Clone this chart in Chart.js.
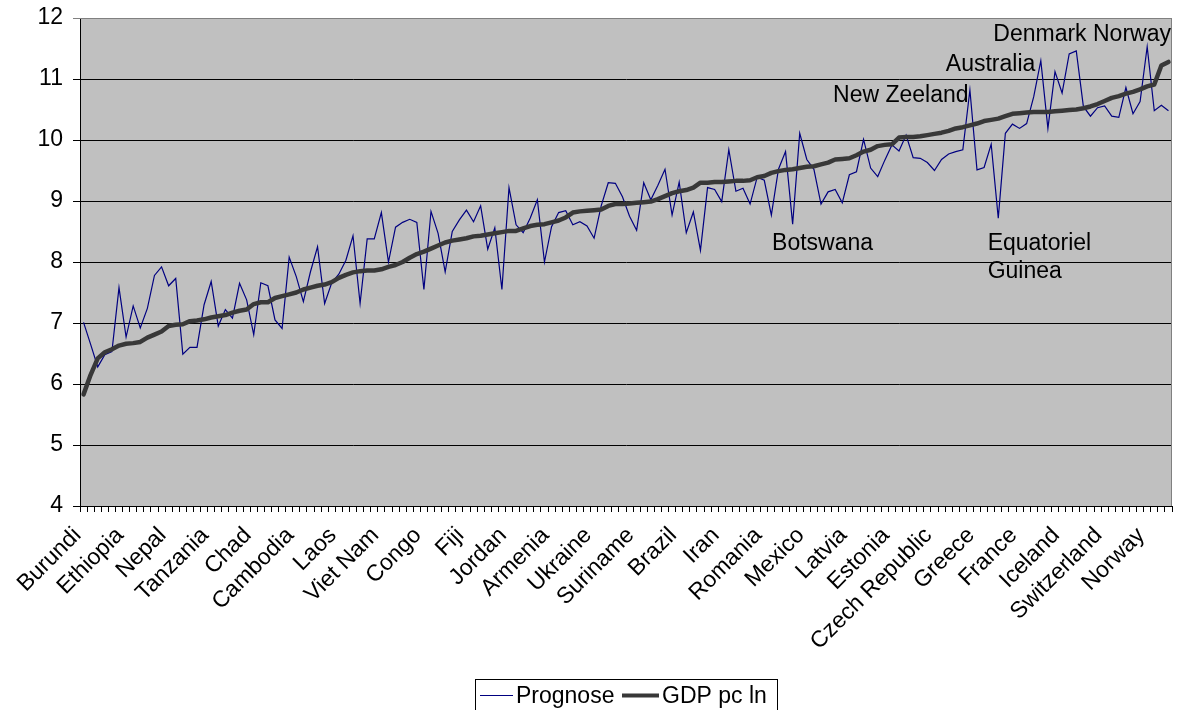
<!DOCTYPE html>
<html>
<head>
<meta charset="utf-8">
<script src="https://cdn.jsdelivr.net/npm/chart.js@4.4.1/dist/chart.umd.min.js"></script>
<style>
  html, body { margin: 0; padding: 0; background: #ffffff; }
  canvas { display: block; }
</style>
</head>
<body>
<canvas id="chart" width="1177" height="710"></canvas>
<script>
const FONT = "'Liberation Sans', Arial, sans-serif";

// Countries named on the category axis (every sixth country)
const tickLabels = [
  'Burundi', 'Ethiopia', 'Nepal', 'Tanzania', 'Chad', 'Cambodia', 'Laos',
  'Viet Nam', 'Congo', 'Fiji', 'Jordan', 'Armenia', 'Ukraine', 'Suriname',
  'Brazil', 'Iran', 'Romania', 'Mexico', 'Latvia', 'Estonia',
  'Czech Republic', 'Greece', 'France', 'Iceland', 'Switzerland', 'Norway'
];
const labelStep = 6;

// Predicted value per country
const prognose = [
  7.01, 6.65, 6.28, 6.48, 6.53, 7.58, 6.77, 7.28, 6.92, 7.24,
  7.78, 7.92, 7.61, 7.73, 6.49, 6.60, 6.60, 7.30, 7.68, 6.95,
  7.22, 7.08, 7.65, 7.38, 6.81, 7.66, 7.61, 7.05, 6.91, 8.08,
  7.76, 7.35, 7.84, 8.25, 7.32, 7.66, 7.80, 8.03, 8.43, 7.32,
  8.38, 8.38, 8.81, 8.00, 8.57, 8.65, 8.70, 8.65, 7.55, 8.83,
  8.47, 7.84, 8.50, 8.69, 8.85, 8.66, 8.92, 8.21, 8.56, 7.55,
  9.22, 8.61, 8.48, 8.72, 9.02, 8.00, 8.58, 8.81, 8.84, 8.61,
  8.66, 8.59, 8.39, 8.92, 9.30, 9.29, 9.07, 8.75, 8.52, 9.30,
  9.02, 9.26, 9.52, 8.77, 9.31, 8.48, 8.82, 8.19, 9.22, 9.19,
  8.99, 9.84, 9.16, 9.21, 8.95, 9.39, 9.34, 8.77, 9.52, 9.81,
  8.62, 10.11, 9.68, 9.52, 8.95, 9.15, 9.19, 8.97, 9.43, 9.48,
  10.01, 9.54, 9.40, 9.67, 9.92, 9.82, 10.08, 9.71, 9.70, 9.63,
  9.50, 9.68, 9.77, 9.81, 9.84, 10.82, 9.51, 9.55, 9.93, 8.72,
  10.11, 10.26, 10.19, 10.27, 10.71, 11.30, 10.19, 11.12, 10.77, 11.41,
  11.46, 10.55, 10.39, 10.53, 10.56, 10.39, 10.37, 10.86, 10.43, 10.63,
  11.53, 10.48, 10.57, 10.48
];

// Log of GDP per capita, countries sorted ascending
const gdpPcLn = [
  5.83, 6.15, 6.42, 6.52, 6.57, 6.63, 6.66, 6.67, 6.69, 6.76,
  6.81, 6.86, 6.95, 6.97, 6.98, 7.03, 7.04, 7.06, 7.09, 7.11,
  7.13, 7.17, 7.20, 7.22, 7.31, 7.34, 7.34, 7.41, 7.44, 7.47,
  7.50, 7.55, 7.58, 7.61, 7.63, 7.67, 7.74, 7.79, 7.83, 7.85,
  7.86, 7.86, 7.88, 7.92, 7.95, 8.00, 8.07, 8.13, 8.17, 8.22,
  8.27, 8.32, 8.35, 8.37, 8.39, 8.42, 8.43, 8.45, 8.47, 8.49,
  8.51, 8.51, 8.55, 8.59, 8.61, 8.62, 8.65, 8.68, 8.73, 8.81,
  8.83, 8.84, 8.85, 8.86, 8.92, 8.95, 8.95, 8.96, 8.97, 8.98,
  8.99, 9.03, 9.08, 9.13, 9.16, 9.18, 9.22, 9.30, 9.30, 9.31,
  9.31, 9.32, 9.33, 9.33, 9.34, 9.39, 9.41, 9.46, 9.49, 9.51,
  9.52, 9.54, 9.56, 9.57, 9.60, 9.63, 9.68, 9.69, 9.70, 9.75,
  9.81, 9.84, 9.90, 9.92, 9.93, 10.04, 10.05, 10.05, 10.06, 10.08,
  10.10, 10.12, 10.15, 10.19, 10.21, 10.24, 10.27, 10.31, 10.33, 10.35,
  10.39, 10.43, 10.44, 10.45, 10.46, 10.46, 10.46, 10.47, 10.48, 10.49,
  10.50, 10.52, 10.55, 10.59, 10.64, 10.69, 10.72, 10.76, 10.79, 10.83,
  10.88, 10.91, 11.22, 11.28
];

// Category list: one slot per country, named where the axis shows a label
const categories = gdpPcLn.map((_, i) =>
  i % labelStep === 0 ? (tickLabels[i / labelStep] || '') : '');

// Country call-outs: x in category units, y in axis units (text baseline)
const notes = [
  { lines: ['New Zeeland'], x: 105.7, y: 10.62 },
  { lines: ['Australia'], x: 121.6, y: 11.13 },
  { lines: ['Denmark Norway'], x: 128.3, y: 11.62 },
  { lines: ['Botswana'], x: 97.1, y: 8.20 },
  { lines: ['Equatoriel', 'Guinea'], x: 127.5, y: 8.20 }
];

const PLOT_BG = '#c0c0c0';
const PROG_COLOR = '#000080';
const GDP_COLOR = '#383838';

const framePlugin = {
  id: 'plotFrame',
  beforeDraw(chart) {
    const { ctx, chartArea: a } = chart;
    ctx.save();
    ctx.fillStyle = PLOT_BG;
    ctx.fillRect(a.left, a.top, a.right - a.left, a.bottom - a.top);
    ctx.restore();
  },
  beforeDatasetsDraw(chart) {
    const { ctx, chartArea: a } = chart;
    ctx.save();
    ctx.strokeStyle = '#808080';
    ctx.lineWidth = 1;
    ctx.beginPath();
    ctx.moveTo(a.left, Math.round(a.top) + 0.5);
    ctx.lineTo(Math.round(a.right) - 0.5, Math.round(a.top) + 0.5);
    ctx.lineTo(Math.round(a.right) - 0.5, a.bottom);
    ctx.stroke();
    ctx.restore();
  },
  afterDraw(chart) {
    const { ctx } = chart;
    const xs = chart.scales.x, ys = chart.scales.y;
    ctx.save();
    ctx.font = '23px ' + FONT;
    ctx.fillStyle = '#000';
    ctx.textAlign = 'left';
    ctx.textBaseline = 'alphabetic';
    const lineGap = 27.7;
    notes.forEach(n => {
      const px = xs.getPixelForValue(n.x);
      const py = ys.getPixelForValue(n.y);
      n.lines.forEach((t, k) => ctx.fillText(t, px, py + k * lineGap));
    });

    // Legend box at the bottom
    const bx = 475.5, by = 679.5, bw = 302, bh = 40;
    ctx.strokeStyle = '#000';
    ctx.lineWidth = 1;
    ctx.strokeRect(bx, by, bw, bh);
    const ly = 695.5;
    ctx.strokeStyle = PROG_COLOR;
    ctx.lineWidth = 1;
    ctx.beginPath(); ctx.moveTo(480, ly); ctx.lineTo(513, ly); ctx.stroke();
    ctx.fillText(chart.data.datasets[0].label, 516, 703);
    ctx.strokeStyle = GDP_COLOR;
    ctx.lineWidth = 4;
    ctx.beginPath(); ctx.moveTo(622, ly); ctx.lineTo(659, ly); ctx.stroke();
    ctx.fillText(chart.data.datasets[1].label, 662, 703);
    ctx.restore();
  }
};

new Chart(document.getElementById('chart'), {
  type: 'line',
  data: {
    labels: categories,
    datasets: [
      {
        label: 'Prognose',
        data: prognose,
        borderColor: PROG_COLOR,
        borderWidth: 1.2,
        pointRadius: 0,
        tension: 0,
        order: 1
      },
      {
        label: 'GDP pc ln',
        data: gdpPcLn,
        borderColor: GDP_COLOR,
        borderWidth: 4.5,
        pointRadius: 0,
        tension: 0,
        borderJoinStyle: 'round',
        borderCapStyle: 'round',
        order: 0
      }
    ]
  },
  options: {
    responsive: false,
    animation: false,
    devicePixelRatio: 1,
    layout: { padding: { left: 0, right: 5, top: 18, bottom: 0 } },
    plugins: {
      legend: { display: false },
      tooltip: { enabled: false }
    },
    scales: {
      x: {
        type: 'category',
        offset: true,
        grid: {
          offset: true,
          drawOnChartArea: false,
          drawTicks: true,
          tickLength: 6,
          color: '#000'
        },
        border: { display: true, color: '#000', width: 1 },
        ticks: {
          autoSkip: false,
          minRotation: 45,
          maxRotation: 45,
          padding: 10,
          labelOffset: -6,
          color: '#000',
          font: { family: FONT, size: 23 }
        },
        afterFit(s) {
          s.height = 204;
          s.paddingLeft = 0;
          s.paddingRight = 0;
        }
      },
      y: {
        min: 4,
        max: 12,
        ticks: {
          stepSize: 1,
          padding: 10,
          color: '#000',
          font: { family: FONT, size: 23 }
        },
        grid: {
          color: ctx => (ctx.tick && ctx.tick.value === 12 ? '#808080' : '#000'),
          lineWidth: 1,
          drawTicks: true,
          tickLength: 7
        },
        border: { display: true, color: '#000', width: 1 },
        afterFit(s) {
          s.width = 80;
          s.paddingTop = 0;
          s.paddingBottom = 0;
        }
      }
    }
  },
  plugins: [framePlugin]
});
</script>
</body>
</html>
